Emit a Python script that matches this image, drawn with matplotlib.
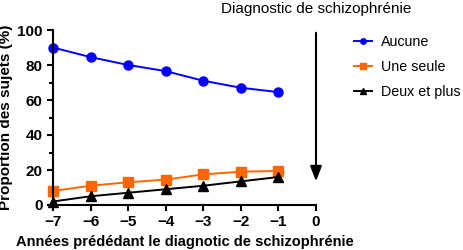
import numpy as np
import matplotlib.pyplot as plt

plt.rcParams['font.family'] = ['Liberation Sans', 'DejaVu Sans']

years = [-7, -6, -5, -4, -3, -2, -1]
aucune = [90, 84.5, 80, 76.5, 71, 67, 64.5]
une_seule = [8, 11, 13, 14.5, 17.5, 19, 19.5]
deux_et_plus = [2, 5, 7, 9, 11, 13.5, 16]

fig = plt.figure(figsize=(4.63, 2.5), dpi=100)
ax = fig.add_axes([0.1145, 0.18, 0.568, 0.70])

ax.plot(years, aucune, color='#0000ff', marker='o', ms=6.5, lw=1.4, label='Aucune', clip_on=False)
ax.plot(years, une_seule, color='#ff6600', marker='s', ms=6.5, lw=1.4, label='Une seule', clip_on=False)
ax.plot(years, deux_et_plus, color='black', marker='^', ms=6.5, lw=1.4, label='Deux et plus', clip_on=False)

ax.set_xlim(-7, 0)
ax.set_ylim(0, 100)
ax.set_xticks(range(-7, 1))
ax.set_yticks(range(0, 101, 20))
ax.set_yticks(range(10, 100, 20), minor=True)
for s in ['top', 'right']:
    ax.spines[s].set_visible(False)
for s in ['left', 'bottom']:
    ax.spines[s].set_linewidth(1.5)
ax.tick_params(width=1.5, length=4, labelsize=11)
ax.tick_params(which='minor', width=1.5, length=3)
for lab in ax.get_xticklabels() + ax.get_yticklabels():
    lab.set_fontweight('bold')

ax.set_xlabel('Années prédédant le diagnotic de schizophrénie', fontsize=10.5, fontweight='bold')
ax.set_ylabel('Proportion des sujets (%)', fontsize=11, fontweight='bold', labelpad=3)

ax.annotate('', xy=(0, 12), xytext=(0, 100), annotation_clip=False,
            arrowprops=dict(arrowstyle='-|>,head_width=0.35,head_length=0.9', color='black', lw=1.5))
ax.text(0, 108, 'Diagnostic de schizophrénie', ha='center', va='bottom', fontsize=11, clip_on=False)

ax.legend(loc='upper left', bbox_to_anchor=(1.095, 1.045), frameon=False, fontsize=10.3,
          handlelength=1.3, labelspacing=0.78, handletextpad=0.6, markerscale=0.6)

fig.savefig('out.png', dpi=100)
